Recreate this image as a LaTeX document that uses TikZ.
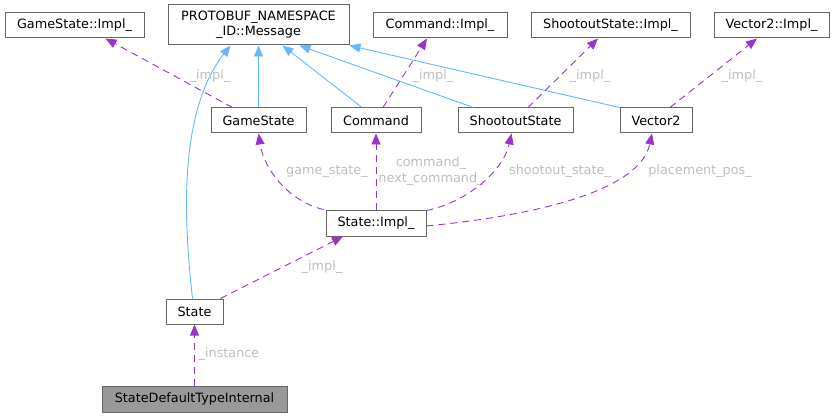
\documentclass[tikz,border=0pt]{standalone}
\usepackage{fontspec}
\setmainfont{DejaVu Sans}
\usepackage{tikz}
\usetikzlibrary{arrows.meta, calc}
\usepackage{xcolor}
\definecolor{boxline}{RGB}{102,102,102}
\definecolor{inhblue}{RGB}{99,184,255}
\definecolor{usepurple}{RGB}{154,50,205}
\definecolor{lblgray}{RGB}{190,190,190}

\begin{document}
\begin{tikzpicture}[x=1pt, y=-1pt,
  font=\fontsize{12.8}{15.5}\selectfont,
  cls/.style={draw=boxline, fill=white, line width=1pt, inner sep=0pt, minimum height=25pt, align=center},
  inh/.style={draw=inhblue, line width=0.9pt, -{Triangle[length=11pt,width=9pt]}},
  use/.style={draw=usepurple, line width=0.9pt, dash pattern=on 7pt off 5pt, -{Triangle[length=11pt,width=9pt]}},
  lbl/.style={text=lblgray, inner sep=0pt, align=center}]
  \useasboundingbox (0,0) rectangle (835,417);
  \node[cls, minimum width=139pt] (gsimpl) at (74.5,25.5) {GameState::Impl\_};
  \node[cls, minimum width=181pt, minimum height=40pt] (msg) at (258.5,25) {PROTOBUF\_NAMESPACE\\\_ID::Message};
  \node[cls, minimum width=134pt] (cmdimpl) at (440,25.5) {Command::Impl\_};
  \node[cls, minimum width=159pt] (ssimpl) at (610.5,25.5) {ShootoutState::Impl\_};
  \node[cls, minimum width=115pt] (v2impl) at (771.5,25.5) {Vector2::Impl\_};
  \node[cls, minimum width=95pt] (gs) at (258.5,120.5) {GameState};
  \node[cls, minimum width=90pt] (cmd) at (376,120.5) {Command};
  \node[cls, minimum width=115pt] (ss) at (515.5,120.5) {ShootoutState};
  \node[cls, minimum width=72pt] (v2) at (656,120.5) {Vector2};
  \node[cls, minimum width=100pt, minimum height=26pt] (simpl) at (376,223) {State::Impl\_};
  \node[cls, minimum width=57pt] (st) at (194.5,311.5) {State};
  \node[cls, minimum width=185pt, minimum height=26pt, fill=black!40] (sdti) at (194.5,399) {StateDefaultTypeInternal};

  \draw[inh] ([xshift=-2pt]st.north) .. controls (185,230) and (176,115) .. ([xshift=-28pt]msg.south);
  \draw[inh] (gs.north) -- (msg.south);
  \draw[inh] ([xshift=-14pt]cmd.north) -- ([xshift=24pt]msg.south);
  \draw[inh] ([xshift=-42pt]ss.north) -- ([xshift=41pt]msg.south);
  \draw[inh] (v2.north west) -- (msg.south east);

  \draw[use] ([xshift=-26pt]gs.north) -- ([xshift=31pt]gsimpl.south);
  \node[lbl] (l1) at (210,76) {\_impl\_};
  \draw[use] ([xshift=7pt]cmd.north) -- ([xshift=-13pt]cmdimpl.south);
  \node[lbl] (l2) at (433,76) {\_impl\_};
  \draw[use] ([xshift=12.5pt]ss.north) -- ([xshift=-12.5pt]ssimpl.south);
  \node[lbl] (l3) at (590,76) {\_impl\_};
  \draw[use] ([xshift=14pt]v2.north) -- ([xshift=-14.5pt]v2impl.south);
  \node[lbl] (l4) at (742,76) {\_impl\_};

  \draw[use] ([xshift=-2pt]simpl.north west) .. controls (290,202) and (264,170) .. (gs.south);
  \node[lbl] (l5) at (327,172) {game\_state\_};
  \draw[use] (simpl.north) -- (cmd.south);
  \node[lbl] (l6) at (431,171) {command\_\\next\_command\_};
  \draw[use] ([yshift=-1pt]simpl.north east) .. controls (465,203) and (503,172) .. ([xshift=-4pt]ss.south);
  \node[lbl] (l7) at (560,171) {shootout\_state\_};
  \draw[use] ([yshift=-3pt]simpl.east) .. controls (540,215) and (640,190) .. ([xshift=-4pt]v2.south);
  \node[lbl] (l8) at (700,171) {placement\_pos\_};
  \draw[use] ([xshift=-3pt]st.north east) -- ([xshift=-33pt]simpl.south);
  \node[lbl] (l9) at (322,267) {\_impl\_};
  \draw[use] (sdti.north) -- (st.south);
  \node[lbl] (l10) at (229,354) {\_instance};
\end{tikzpicture}
\end{document}
